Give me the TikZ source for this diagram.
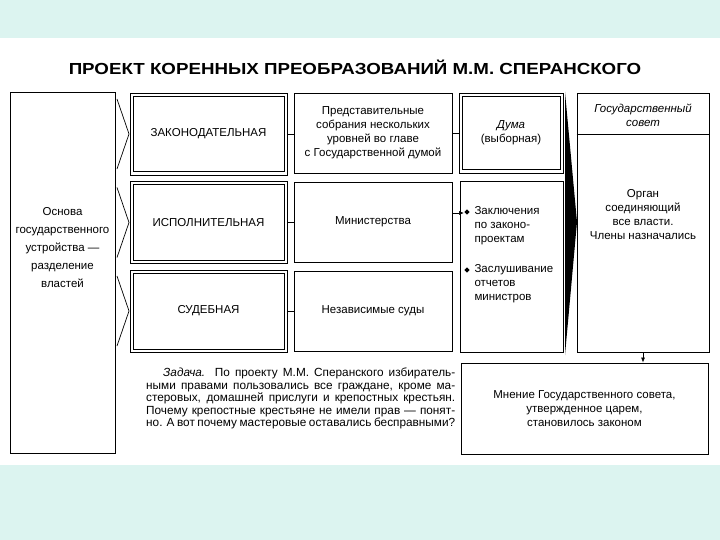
\documentclass[tikz,border=0pt]{standalone}
\usepackage{fontspec}
\setmainfont{Liberation Sans}
\usepackage{graphicx}
\usetikzlibrary{arrows.meta, shapes.geometric, positioning}
\definecolor{slidebg}{RGB}{220,244,240}

\begin{document}
\begin{tikzpicture}[x=1pt, y=-1pt,
    box/.style={draw, line width=0.8pt, inner sep=0pt, align=center, font=\fontsize{11.5}{14}\selectfont},
    lbl/.style={align=center, font=\fontsize{11.5}{14}\selectfont},
    tip/.style={-{Latex[length=5pt, width=4pt]}, line width=0.7pt}]
    \useasboundingbox (0,0) rectangle (720,540);
    \fill[slidebg] (0,0) rectangle (720,540);
    \fill[white] (0,38) rectangle (720,465);

    \node[font=\bfseries\fontsize{16}{18}\selectfont] (title) at (355,67)
        {\scalebox{1.17}[1]{ПРОЕКТ КОРЕННЫХ ПРЕОБРАЗОВАНИЙ М.М. СПЕРАНСКОГО}};

    % основа
    \node[box, minimum width=105pt, minimum height=361pt] (base) at (62.5,272.5) {};
    \node[lbl, font=\fontsize{11.5}{18}\selectfont] (basetxt) at (62.5,248)
        {Основа\\государственного\\устройства~---\\разделение\\властей};

    % ветви власти
    \node[box, minimum width=157pt, minimum height=82pt] (leg) at (208.5,134) {ЗАКОНОДАТЕЛЬНАЯ};
    \node[box, minimum width=157pt, minimum height=82pt] (exe) at (208.5,222.5) {ИСПОЛНИТЕЛЬНАЯ};
    \node[box, minimum width=157pt, minimum height=82pt] (jud) at (208.5,311) {СУДЕБНАЯ};
    \foreach \y in {134,222.5,311}
        \draw[line width=0.7pt] (117,\y-35) -- (129,\y) -- (117,\y+35);

    \node[box, minimum width=158pt, minimum height=80pt] (assem) at (373,133)
        {Представительные\\собрания нескольких\\уровней во главе\\с Государственной думой};
    \node[box, minimum width=158pt, minimum height=80pt] (min) at (373,222) {Министерства};
    \node[box, minimum width=158pt, minimum height=80pt] (courts) at (373,311) {Независимые суды};
    \draw[line width=0.8pt] (leg.east) -- (leg.east -| assem.west);
    \draw[line width=0.8pt] (exe.east) -- (exe.east -| min.west);
    \draw[line width=0.8pt] (jud.east) -- (jud.east -| courts.west);

    % дума
    \node[box, minimum width=104pt, minimum height=80pt] (duma) at (511,133) {\textit{Дума}\\(выборная)};
    \draw[line width=0.8pt] (assem.east) -- (assem.east -| duma.west);
    \foreach \n in {leg,exe,jud,duma}
        \draw[line width=0.8pt] ([shift={(3.5pt,-3.5pt)}]\n.north west) rectangle ([shift={(-3.5pt,3.5pt)}]\n.south east);

    \node[box, minimum width=103pt, minimum height=171pt] (rights) at (511.5,266.5) {};
    \node[diamond, fill, inner sep=1.4pt] (dot1) at (467,212) {};
    \node[diamond, fill, inner sep=1.4pt] (dot2) at (467,270) {};
    \node[lbl, align=left, anchor=west] (concl) at (471,226) {Заключения\\по законо-\\проектам};
    \node[lbl, align=left, anchor=west] (report) at (471,284) {Заслушивание\\отчетов\\министров};
    \draw[tip] ([yshift=9pt]min.east) -- ([yshift=9pt]min.east -| dot1.west);

    \fill (565,92) -- (577,222) -- (565,355) -- cycle;

    % государственный совет
    \node[box, minimum width=132pt, minimum height=259pt] (council) at (643,222.5) {};
    \draw[line width=0.8pt] ([yshift=-42pt]council.north west) -- ([yshift=-42pt]council.north east);
    \node[lbl, font=\itshape\fontsize{11.5}{14}\selectfont] (ctitle) at (643,115) {Государственный\\совет};
    \node[lbl] (cbody) at (643,214.5) {Орган\\соединяющий\\все власти.\\Члены назначались};

    \node[box, minimum width=247pt, minimum height=91pt] (law) at (584.5,408.5)
        {Мнение Государственного совета,\\утвержденное царем,\\становилось законом};
    \draw[tip] (council.south) -- (council.south |- law.north);

    % задача
    \node[anchor=north west, align=left, inner sep=0pt, font=\fontsize{11.8}{12.5}\selectfont] (task) at (146,368)
        {\makebox[309pt][s]{\hspace*{17pt}\textit{Задача.} По проекту М.М. Сперанского избиратель-}\\
         \makebox[309pt][s]{ными правами пользовались все граждане, кроме ма-}\\
         \makebox[309pt][s]{стеровых, домашней прислуги и крепостных крестьян.}\\
         \makebox[309pt][s]{Почему крепостные крестьяне не имели прав~--- понят-}\\
         \makebox[309pt][s]{но. А вот почему мастеровые оставались бесправными?}};
\end{tikzpicture}
\end{document}
